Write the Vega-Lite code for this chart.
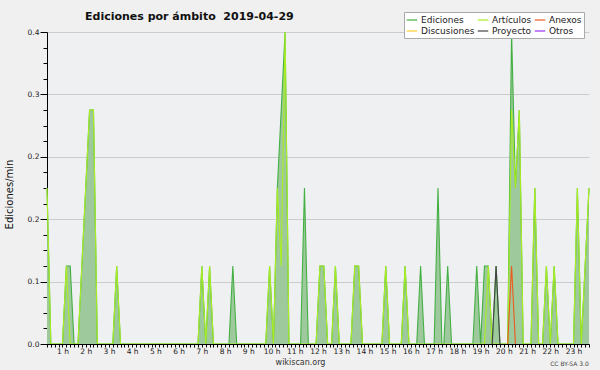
{
  "$schema": "https://vega.github.io/schema/vega-lite/v6.json",
  "width": 542,
  "height": 312,
  "autosize": {"type": "none"},
  "padding": {"left": 47, "top": 32, "right": 11, "bottom": 26},
  "background": "#f0f0f0",
  "config": {"view": {"fill": "#eef0f1", "stroke": null}, "font": "DejaVu Sans"},
  "title": {"text": "Ediciones por ámbito \u00a02019-04-29", "anchor": "start", "frame": "group", "dx": 38, "dy": 16, "offset": 6, "fontSize": 11, "fontWeight": "bold", "font": "DejaVu Sans", "color": "#111111"},
  "data": {"values": [
    {"m": 20, "s": "Ediciones", "v": 0.2}, {"m": 30, "s": "Ediciones", "v": 0},
    {"m": 60, "s": "Ediciones", "v": 0}, {"m": 70, "s": "Ediciones", "v": 0.1}, {"m": 80, "s": "Ediciones", "v": 0.1}, {"m": 90, "s": "Ediciones", "v": 0},
    {"m": 100, "s": "Ediciones", "v": 0}, {"m": 110, "s": "Ediciones", "v": 0.1}, {"m": 120, "s": "Ediciones", "v": 0.2}, {"m": 130, "s": "Ediciones", "v": 0.3}, {"m": 140, "s": "Ediciones", "v": 0.3}, {"m": 150, "s": "Ediciones", "v": 0},
    {"m": 190, "s": "Ediciones", "v": 0}, {"m": 200, "s": "Ediciones", "v": 0.1}, {"m": 210, "s": "Ediciones", "v": 0},
    {"m": 410, "s": "Ediciones", "v": 0}, {"m": 420, "s": "Ediciones", "v": 0.1}, {"m": 430, "s": "Ediciones", "v": 0}, {"m": 440, "s": "Ediciones", "v": 0.1}, {"m": 450, "s": "Ediciones", "v": 0},
    {"m": 490, "s": "Ediciones", "v": 0}, {"m": 500, "s": "Ediciones", "v": 0.1}, {"m": 510, "s": "Ediciones", "v": 0},
    {"m": 585, "s": "Ediciones", "v": 0}, {"m": 595, "s": "Ediciones", "v": 0.1}, {"m": 605, "s": "Ediciones", "v": 0}, {"m": 615, "s": "Ediciones", "v": 0.2}, {"m": 625, "s": "Ediciones", "v": 0.3}, {"m": 635, "s": "Ediciones", "v": 0.4}, {"m": 645, "s": "Ediciones", "v": 0},
    {"m": 675, "s": "Ediciones", "v": 0}, {"m": 685, "s": "Ediciones", "v": 0.2}, {"m": 695, "s": "Ediciones", "v": 0},
    {"m": 715, "s": "Ediciones", "v": 0}, {"m": 725, "s": "Ediciones", "v": 0.1}, {"m": 735, "s": "Ediciones", "v": 0.1}, {"m": 745, "s": "Ediciones", "v": 0},
    {"m": 755, "s": "Ediciones", "v": 0}, {"m": 765, "s": "Ediciones", "v": 0.1}, {"m": 775, "s": "Ediciones", "v": 0},
    {"m": 805, "s": "Ediciones", "v": 0}, {"m": 815, "s": "Ediciones", "v": 0.1}, {"m": 825, "s": "Ediciones", "v": 0.1}, {"m": 835, "s": "Ediciones", "v": 0},
    {"m": 885, "s": "Ediciones", "v": 0}, {"m": 895, "s": "Ediciones", "v": 0.1}, {"m": 905, "s": "Ediciones", "v": 0},
    {"m": 935, "s": "Ediciones", "v": 0}, {"m": 945, "s": "Ediciones", "v": 0.1}, {"m": 955, "s": "Ediciones", "v": 0},
    {"m": 975, "s": "Ediciones", "v": 0}, {"m": 985, "s": "Ediciones", "v": 0.1}, {"m": 995, "s": "Ediciones", "v": 0},
    {"m": 1020, "s": "Ediciones", "v": 0}, {"m": 1030, "s": "Ediciones", "v": 0.2}, {"m": 1040, "s": "Ediciones", "v": 0},
    {"m": 1045, "s": "Ediciones", "v": 0}, {"m": 1055, "s": "Ediciones", "v": 0.1}, {"m": 1065, "s": "Ediciones", "v": 0},
    {"m": 1120, "s": "Ediciones", "v": 0}, {"m": 1130, "s": "Ediciones", "v": 0.1}, {"m": 1140, "s": "Ediciones", "v": 0}, {"m": 1150, "s": "Ediciones", "v": 0.1}, {"m": 1160, "s": "Ediciones", "v": 0.1}, {"m": 1170, "s": "Ediciones", "v": 0}, {"m": 1180, "s": "Ediciones", "v": 0.1}, {"m": 1190, "s": "Ediciones", "v": 0},
    {"m": 1210, "s": "Ediciones", "v": 0}, {"m": 1220, "s": "Ediciones", "v": 0.4}, {"m": 1230, "s": "Ediciones", "v": 0.2}, {"m": 1240, "s": "Ediciones", "v": 0.3}, {"m": 1250, "s": "Ediciones", "v": 0},
    {"m": 1270, "s": "Ediciones", "v": 0}, {"m": 1280, "s": "Ediciones", "v": 0.2}, {"m": 1290, "s": "Ediciones", "v": 0},
    {"m": 1300, "s": "Ediciones", "v": 0}, {"m": 1310, "s": "Ediciones", "v": 0.1}, {"m": 1320, "s": "Ediciones", "v": 0}, {"m": 1330, "s": "Ediciones", "v": 0.1}, {"m": 1340, "s": "Ediciones", "v": 0},
    {"m": 1380, "s": "Ediciones", "v": 0}, {"m": 1390, "s": "Ediciones", "v": 0.2}, {"m": 1400, "s": "Ediciones", "v": 0}, {"m": 1410, "s": "Ediciones", "v": 0.1}, {"m": 1420, "s": "Ediciones", "v": 0.2},

    {"m": 20, "s": "Artículos", "v": 0.2}, {"m": 30, "s": "Artículos", "v": 0},
    {"m": 60, "s": "Artículos", "v": 0}, {"m": 70, "s": "Artículos", "v": 0.1}, {"m": 80, "s": "Artículos", "v": 0},
    {"m": 100, "s": "Artículos", "v": 0}, {"m": 110, "s": "Artículos", "v": 0.1}, {"m": 120, "s": "Artículos", "v": 0.2}, {"m": 130, "s": "Artículos", "v": 0.3}, {"m": 140, "s": "Artículos", "v": 0.3}, {"m": 150, "s": "Artículos", "v": 0},
    {"m": 190, "s": "Artículos", "v": 0}, {"m": 200, "s": "Artículos", "v": 0.1}, {"m": 210, "s": "Artículos", "v": 0},
    {"m": 410, "s": "Artículos", "v": 0}, {"m": 420, "s": "Artículos", "v": 0.1}, {"m": 430, "s": "Artículos", "v": 0}, {"m": 440, "s": "Artículos", "v": 0.1}, {"m": 450, "s": "Artículos", "v": 0},
    {"m": 585, "s": "Artículos", "v": 0}, {"m": 595, "s": "Artículos", "v": 0.1}, {"m": 605, "s": "Artículos", "v": 0}, {"m": 615, "s": "Artículos", "v": 0.2}, {"m": 625, "s": "Artículos", "v": 0.1}, {"m": 635, "s": "Artículos", "v": 0.4}, {"m": 645, "s": "Artículos", "v": 0},
    {"m": 715, "s": "Artículos", "v": 0}, {"m": 725, "s": "Artículos", "v": 0.1}, {"m": 735, "s": "Artículos", "v": 0.1}, {"m": 745, "s": "Artículos", "v": 0},
    {"m": 755, "s": "Artículos", "v": 0}, {"m": 765, "s": "Artículos", "v": 0.1}, {"m": 775, "s": "Artículos", "v": 0},
    {"m": 805, "s": "Artículos", "v": 0}, {"m": 815, "s": "Artículos", "v": 0.1}, {"m": 825, "s": "Artículos", "v": 0.1}, {"m": 835, "s": "Artículos", "v": 0},
    {"m": 885, "s": "Artículos", "v": 0}, {"m": 895, "s": "Artículos", "v": 0.1}, {"m": 905, "s": "Artículos", "v": 0},
    {"m": 935, "s": "Artículos", "v": 0}, {"m": 945, "s": "Artículos", "v": 0.1}, {"m": 955, "s": "Artículos", "v": 0},
    {"m": 1150, "s": "Artículos", "v": 0}, {"m": 1160, "s": "Artículos", "v": 0.1}, {"m": 1170, "s": "Artículos", "v": 0},
    {"m": 1210, "s": "Artículos", "v": 0}, {"m": 1220, "s": "Artículos", "v": 0.3}, {"m": 1230, "s": "Artículos", "v": 0.2}, {"m": 1240, "s": "Artículos", "v": 0.3}, {"m": 1250, "s": "Artículos", "v": 0},
    {"m": 1270, "s": "Artículos", "v": 0}, {"m": 1280, "s": "Artículos", "v": 0.2}, {"m": 1290, "s": "Artículos", "v": 0},
    {"m": 1300, "s": "Artículos", "v": 0}, {"m": 1310, "s": "Artículos", "v": 0.1}, {"m": 1320, "s": "Artículos", "v": 0}, {"m": 1330, "s": "Artículos", "v": 0.1}, {"m": 1340, "s": "Artículos", "v": 0},
    {"m": 1380, "s": "Artículos", "v": 0}, {"m": 1390, "s": "Artículos", "v": 0.2}, {"m": 1400, "s": "Artículos", "v": 0}, {"m": 1410, "s": "Artículos", "v": 0.1}, {"m": 1420, "s": "Artículos", "v": 0.2},

    {"m": 1170, "s": "Proyecto", "v": 0}, {"m": 1180, "s": "Proyecto", "v": 0.1}, {"m": 1190, "s": "Proyecto", "v": 0},
    {"m": 1210, "s": "Anexos", "v": 0}, {"m": 1220, "s": "Anexos", "v": 0.1}, {"m": 1230, "s": "Anexos", "v": 0}
  ]},
  "encoding": {
    "y": {
      "field": "v", "type": "quantitative",
      "scale": {"domain": [0, 0.4], "nice": false},
      "axis": {
        "values": [0, 0.02, 0.04, 0.06, 0.08, 0.1, 0.12, 0.14, 0.16, 0.18, 0.2, 0.22, 0.24, 0.26, 0.28, 0.3, 0.32, 0.34, 0.36, 0.38, 0.4],
        "labelExpr": "abs(datum.value/0.08 - round(datum.value/0.08)) < 0.001 ? format(datum.value, '.1f') : ''",
        "tickSize": {"condition": {"test": "abs(datum.value/0.08 - round(datum.value/0.08)) < 0.001", "value": 7}, "value": 4},
        "gridOpacity": {"condition": {"test": "abs(datum.value/0.08 - round(datum.value/0.08)) < 0.001", "value": 1}, "value": 0},
        "grid": true, "gridColor": "#cccccc", "gridWidth": 1,
        "domainColor": "#000000", "tickColor": "#000000",
        "labelFont": "DejaVu Sans", "labelFontSize": 7.5, "labelColor": "#222222", "labelPadding": 1, "labelOverlap": false, "labelFlush": false,
        "title": "Ediciones/min", "titleFont": "DejaVu Sans", "titleFontSize": 10, "titleFontWeight": "normal", "titleColor": "#111111",
        "titleX": -38, "titleY": 162, "titleBaseline": "middle", "titleAlign": "center", "titleAngle": -90,
        "zindex": 0
      }
    }
  },
  "layer": [
    {
      "transform": [{"filter": "datum.s === 'Ediciones'"}],
      "mark": {"type": "area", "color": "#9dc99d", "opacity": 1},
      "encoding": {
        "x": {
          "field": "m", "type": "quantitative",
          "scale": {"domain": [20, 1420], "nice": false, "zero": false},
          "axis": {
            "values": [20,30,40,50,60,70,80,90,100,110,120,130,140,150,160,170,180,190,200,210,220,230,240,250,260,270,280,290,300,310,320,330,340,350,360,370,380,390,400,410,420,430,440,450,460,470,480,490,500,510,520,530,540,550,560,570,580,590,600,610,620,630,640,650,660,670,680,690,700,710,720,730,740,750,760,770,780,790,800,810,820,830,840,850,860,870,880,890,900,910,920,930,940,950,960,970,980,990,1000,1010,1020,1030,1040,1050,1060,1070,1080,1090,1100,1110,1120,1130,1140,1150,1160,1170,1180,1190,1200,1210,1220,1230,1240,1250,1260,1270,1280,1290,1300,1310,1320,1330,1340,1350,1360,1370,1380,1390,1400,1410,1420],
            "labelExpr": "datum.value % 60 === 0 ? (datum.value / 60) + ' h' : ''",
            "tickSize": 3, "tickColor": "#000000", "domainColor": "#000000", "grid": false,
            "labelFont": "DejaVu Sans", "labelFontSize": 7.5, "labelColor": "#222222", "labelPadding": 0, "labelOverlap": false, "labelFlush": false,
            "title": "wikiscan.org", "titleFont": "DejaVu Sans", "titleFontSize": 8, "titleFontWeight": "normal", "titleColor": "#333333",
            "titleX": 253, "titleY": 18, "titleAlign": "center", "titleBaseline": "middle",
            "zindex": 1
          }
        }
      }
    },
    {
      "transform": [{"filter": "datum.s === 'Ediciones'"}],
      "mark": {"type": "line", "strokeWidth": 1.1},
      "encoding": {
        "x": {
          "field": "m", "type": "quantitative",
          "scale": {"domain": [20, 1420], "nice": false, "zero": false},
          "axis": {"orient": "bottom", "domain": false, "ticks": false, "labels": false, "grid": false,
            "title": "CC BY-SA 3.0", "titleFont": "DejaVu Sans", "titleFontSize": 6, "titleFontWeight": "normal", "titleColor": "#444444",
            "titleX": 522, "titleY": 19, "titleAlign": "center", "titleBaseline": "middle"}
        },
        "color": {
          "field": "s", "type": "nominal",
          "scale": {"domain": ["Ediciones", "Artículos", "Anexos", "Discusiones", "Proyecto", "Otros"], "range": ["#44b044", "#aaee22", "#ee5a1e", "#ffcc33", "#444444", "#9933ee"]},
          "legend": {"orient": "none", "legendX": 357, "legendY": -20, "columns": 3, "direction": "horizontal", "title": null,
            "symbolType": "stroke", "symbolSize": 110, "symbolStrokeWidth": 1.2, "labelFont": "DejaVu Sans", "labelFontSize": 9, "labelColor": "#222222",
            "labelOffset": 3, "padding": 2, "rowPadding": 0, "columnPadding": 0, "fillColor": "#ffffff", "strokeColor": "#aaaaaa", "labelLimit": 200}
        }
      }
    },
    {
      "transform": [{"filter": "datum.s === 'Artículos'"}],
      "mark": {"type": "line", "strokeWidth": 1.1},
      "encoding": {
        "x": {"field": "m", "type": "quantitative", "scale": {"domain": [20, 1420], "nice": false, "zero": false}, "axis": null},
        "color": {
          "field": "s", "type": "nominal",
          "scale": {"domain": ["Ediciones", "Artículos", "Anexos", "Discusiones", "Proyecto", "Otros"], "range": ["#44b044", "#aaee22", "#ee5a1e", "#ffcc33", "#444444", "#9933ee"]},
          "legend": {"orient": "none", "legendX": 357, "legendY": -20, "columns": 3, "direction": "horizontal", "title": null,
            "symbolType": "stroke", "symbolSize": 110, "symbolStrokeWidth": 1.2, "labelFont": "DejaVu Sans", "labelFontSize": 9, "labelColor": "#222222",
            "labelOffset": 3, "padding": 2, "rowPadding": 0, "columnPadding": 0, "fillColor": "#ffffff", "strokeColor": "#aaaaaa", "labelLimit": 200}
        }
      }
    },
    {
      "transform": [{"filter": "datum.s === 'Proyecto' || datum.s === 'Anexos'"}],
      "mark": {"type": "line", "strokeWidth": 1.1},
      "encoding": {
        "x": {"field": "m", "type": "quantitative", "scale": {"domain": [20, 1420], "nice": false, "zero": false}, "axis": null},
        "color": {
          "field": "s", "type": "nominal",
          "scale": {"domain": ["Ediciones", "Artículos", "Anexos", "Discusiones", "Proyecto", "Otros"], "range": ["#44b044", "#aaee22", "#ee5a1e", "#ffcc33", "#444444", "#9933ee"]},
          "legend": {"orient": "none", "legendX": 357, "legendY": -20, "columns": 3, "direction": "horizontal", "title": null,
            "symbolType": "stroke", "symbolSize": 110, "symbolStrokeWidth": 1.2, "labelFont": "DejaVu Sans", "labelFontSize": 9, "labelColor": "#222222",
            "labelOffset": 3, "padding": 2, "rowPadding": 0, "columnPadding": 0, "fillColor": "#ffffff", "strokeColor": "#aaaaaa", "labelLimit": 200}
        }
      }
    }
  ],
  "resolve": {"axis": {"x": "independent"}}
}
